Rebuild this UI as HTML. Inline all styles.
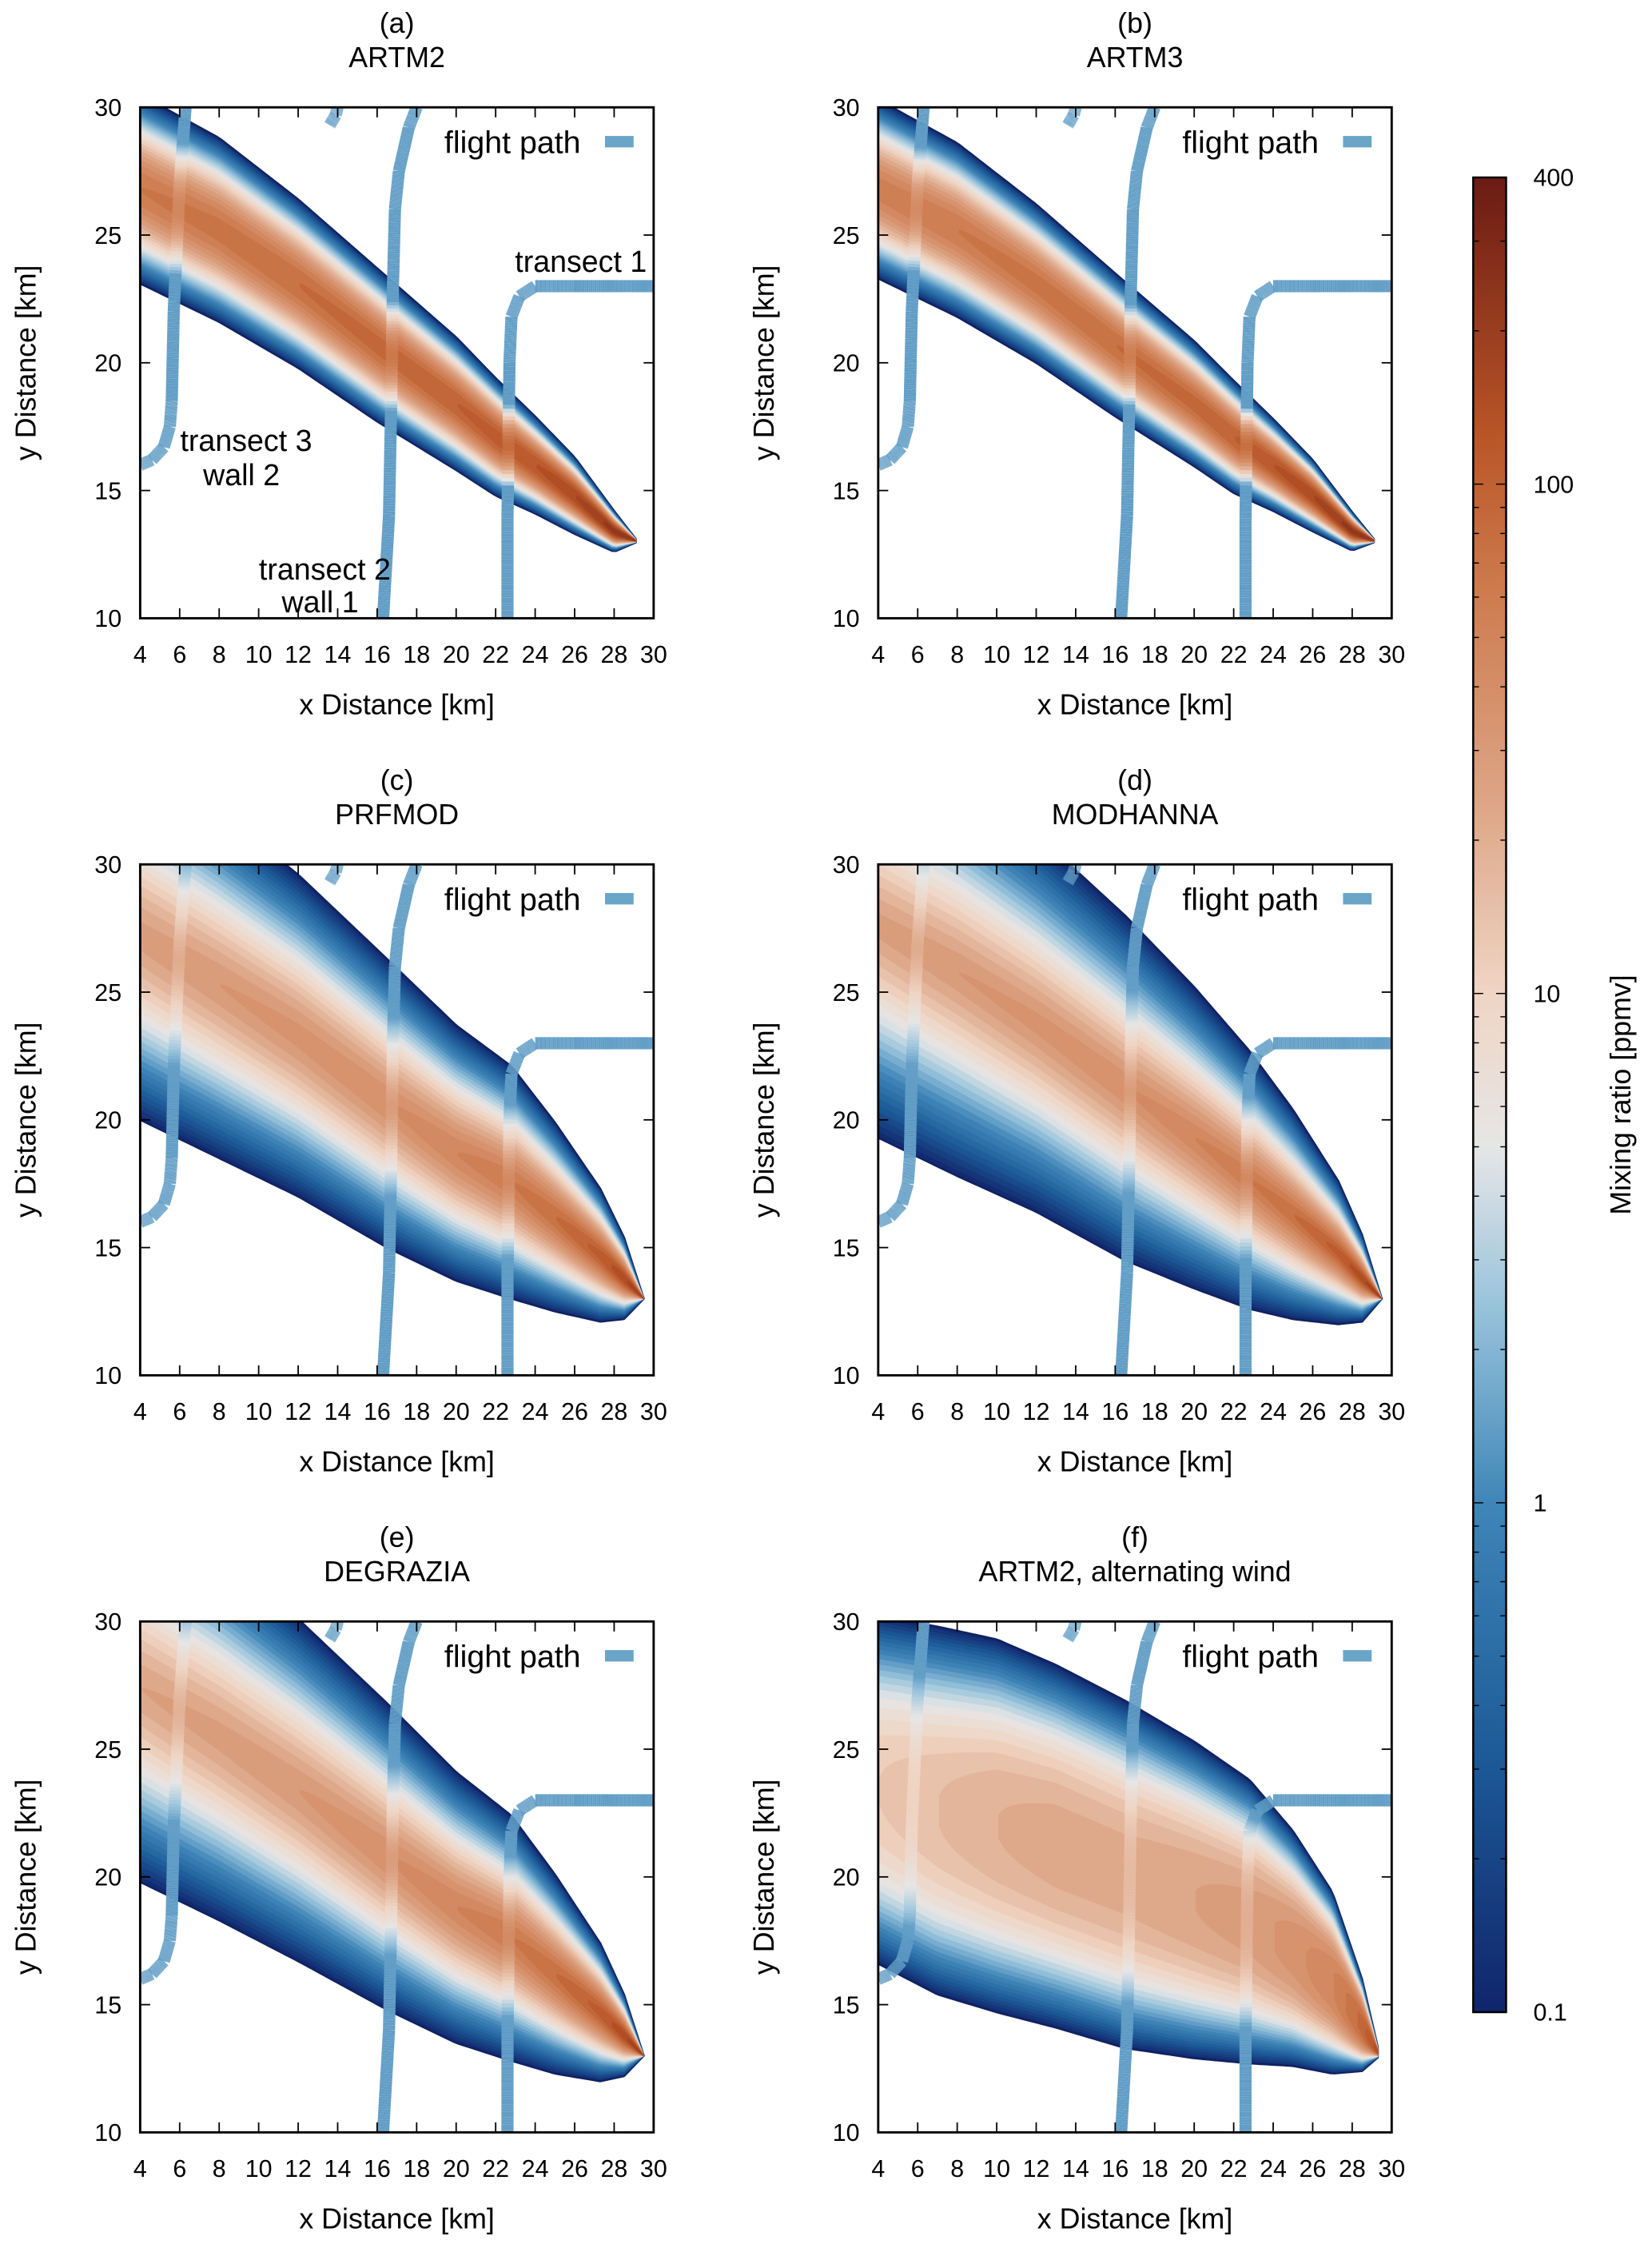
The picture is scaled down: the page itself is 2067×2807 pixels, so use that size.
<!DOCTYPE html>
<html><head><meta charset="utf-8"><style>
html,body{margin:0;padding:0;background:#fff;}
svg{display:block;font-family:"Liberation Sans",sans-serif;}
</style></head><body>
<svg id="fig" width="2067" height="2807" viewBox="0 0 1155 1568" preserveAspectRatio="none" xmlns="http://www.w3.org/2000/svg">
<defs id="defs"></defs>
<g id="root"></g>
</svg>
<script>
// ---- data (km, log10 ppmv) ----
const panelLetters = ["(a)","(b)","(c)","(d)","(e)","(f)"];
const panelNames = ["ARTM2","ARTM3","PRFMOD","MODHANNA","DEGRAZIA","ARTM2, alternating wind"];
const xTicks = [4,6,8,10,12,14,16,18,20,22,24,26,28,30];
const yTicks = [10,15,20,25,30];
const cbTickValues = [400,100,10,1,0.1];
const cbTickLabels = ["400","100","10","1","0.1"];
// plume centerline samples per panel
const plumeX_a = [4,8,12,16,20,22,24,26,28,29.2];
const plumeC_a = [26.8,25.2,23.1,20.7,18.4,17.1,16.0,14.8,13.4,13.0];
const plumeW_a = [3.7,3.6,3.3,3.0,2.6,2.3,1.9,1.5,0.8,0];
const plumeP_a = [1.8,1.85,1.9,1.95,2.0,2.05,2.1,2.2,2.35,2.4];
const plumeX_b = [4,8,12,16,20,22,24,26,28,29.2];
const plumeC_b = [26.8,25.2,23.1,20.7,18.4,17.1,16.0,14.8,13.4,13.0];
const plumeW_b = [3.5,3.4,3.1,2.8,2.45,2.2,1.8,1.4,0.75,0];
const plumeP_b = [1.75,1.8,1.85,1.9,1.95,2.0,2.1,2.2,2.35,2.4];
const plumeX_c = [4,8,12,16.5,20,22.8,25,27.3,28.5,29.5];
const plumeC_c = [27.2,25.3,23.3,20.65,18.7,17.55,16.2,14.7,13.8,13.0];
const plumeW_c = [7.2,6.8,6.3,5.65,5.0,4.55,3.7,2.6,1.6,0];
const plumeP_c = [1.45,1.5,1.55,1.6,1.7,1.8,1.9,2.05,2.2,2.3];
const plumeX_d = [4,8,12,16.5,20,22.8,25,27.3,28.5,29.5];
const plumeC_d = [27.6,25.8,23.8,21.25,19.3,17.65,16.3,14.8,13.8,13.0];
const plumeW_d = [8.3,8.0,7.4,6.75,5.9,5.05,4.1,2.8,1.7,0];
const plumeP_d = [1.45,1.5,1.55,1.6,1.7,1.8,1.9,2.05,2.2,2.3];
const plumeX_e = [4,8,12,16.5,20,22.8,25,27.3,28.5,29.5];
const plumeC_e = [27.4,25.5,23.4,20.8,18.8,17.6,16.2,14.7,13.8,13.0];
const plumeW_e = [7.6,7.2,6.7,6.0,5.3,4.8,3.9,2.7,1.6,0];
const plumeP_e = [1.4,1.45,1.5,1.6,1.7,1.8,1.9,2.05,2.2,2.3];
const plumeX_f = [4,7,10,13,16.5,20,22.8,25,27,28.5,29.4];
const plumeC_f = [23.4,22.6,22.0,21.2,20.1,19.1,18.25,17.2,15.85,14.2,13.0];
const plumeW_f = [6.8,7.2,7.3,7.1,6.8,6.2,5.55,4.6,3.55,1.8,0];
const plumeP_f = [1.1,1.2,1.3,1.35,1.35,1.4,1.45,1.55,1.7,1.95,2.2];
const plumeShape = [1.9,1.9,1.5,1.35,1.5,2.6];
// flight path waypoints
const pathT3x = [4,4.6,5.2,5.5,5.6,5.7,6.0,6.3];
const pathT3y = [16,16.2,16.7,17.5,18.5,22,27,30];
const pathT2x = [16.3,16.6,16.7,16.8,16.9,17.1,17.6,18];
const pathT2y = [10,14,18,23,26,27.5,29.2,30];
const pathT1x = [22.6,22.6,22.7,22.8,23.2,24,26,30];
const pathT1y = [10,14,20,21.8,22.6,23,23,23];
const pathArcX = [13.6,13.9,14.0];
const pathArcY = [29.3,29.7,30];

const plumes = [
 [plumeX_a,plumeC_a,plumeW_a,plumeP_a],[plumeX_b,plumeC_b,plumeW_b,plumeP_b],
 [plumeX_c,plumeC_c,plumeW_c,plumeP_c],[plumeX_d,plumeC_d,plumeW_d,plumeP_d],
 [plumeX_e,plumeC_e,plumeW_e,plumeP_e],[plumeX_f,plumeC_f,plumeW_f,plumeP_f]];
const paths = [[pathT3x,pathT3y],[pathT2x,pathT2y],[pathT1x,pathT1y],[pathArcX,pathArcY]];

// ---- layout ----
const NS="http://www.w3.org/2000/svg";
const colX=[98,614], rowY=[75,604,1133], W=359, H=357;
const root=document.getElementById('root'), defs=document.getElementById('defs');
function mk(tag,attrs,parent){const e=document.createElementNS(NS,tag);for(const k in attrs)e.setAttribute(k,attrs[k]);(parent||root).appendChild(e);return e;}
const stops=[[-1,[16,37,107]],[-0.5,[29,90,152]],[0,[63,134,184]],[0.4,[156,197,220]],[0.7,[230,230,230]],[1,[239,213,196]],[1.4,[220,162,130]],[1.8,[205,122,77]],[2.1,[184,85,39]],[2.6,[107,27,19]]];
function cmap(v){if(v<=stops[0][0])return 'rgb('+stops[0][1].join(',')+')';for(let i=1;i<stops.length;i++){if(v<=stops[i][0]){const a=stops[i-1],b=stops[i],t=(v-a[0])/(b[0]-a[0]);return 'rgb('+a[1].map((c,j)=>Math.round(c+(b[1][j]-c)*t)).join(',')+')';}}return 'rgb('+stops[stops.length-1][1].join(',')+')';}
function interp(xs,ys,x){if(x<=xs[0])return ys[0];for(let i=1;i<xs.length;i++){if(x<=xs[i]){const t=(x-xs[i-1])/(xs[i]-xs[i-1]);return ys[i-1]+(ys[i]-ys[i-1])*t;}}return ys[ys.length-1];}
function valueAt(panel,x,y){
 const P=plumes[panel];
 const xsA=P[0],csA=P[1],wsA=P[2],psA=P[3];
 if(x>xsA[xsA.length-1])return -2;
 const c=interp(xsA,csA,x),w=interp(xsA,wsA,x),p=interp(xsA,psA,x);
 if(!(w>0))return -2;
 const f=Math.abs(y-c)/w;
 if(f>1)return -2;
 return p-(p+1)*Math.pow(f,plumeShape[panel]);
}

for(let pi=0;pi<6;pi++){
 const bx=colX[pi%2], by=rowY[Math.floor(pi/2)];
 const sx=x=>bx+(x-4)/26*W, sy=y=>by+H-(y-10)/20*H;
 const g=mk('g',{});
 
 
 const cp=mk('clipPath',{id:'clip'+pi},defs);mk('rect',{x:bx,y:by,width:W,height:H},cp);
 const hm=mk('g',{'clip-path':'url(#clip'+pi+')'},g);
 
 
 const [xs,cs,ws,ps]=plumes[pi];
 const xmin=3.5,xmax=xs[xs.length-1];
 for(let L=-1;L<=2.6;L+=0.1){
  const up=[],lo=[];
  for(let x=xmin;x<=xmax+1e-6;x+=0.2){
   const c=interp(xs,cs,x),w=interp(xs,ws,x),p=interp(xs,ps,x);
   if(L>p)continue;
   const f=Math.pow((p-L)/(p+1),1/plumeShape[pi]);
   up.push(sx(x).toFixed(2)+','+sy(c+f*w).toFixed(2));
   lo.unshift(sx(x).toFixed(2)+','+sy(c-f*w).toFixed(2));
  }
  if(up.length<2)continue;
  const col=cmap(L+0.05);
  const poly=mk('polygon',{points:up.concat(lo).join(' '),fill:col,stroke:L<-0.95?'#0f2260':col,'stroke-width':L<-0.95?1.4:0.6,'stroke-linejoin':'round'},hm);
  
  
 }
 // flight paths
 const fp=mk('g',{'clip-path':'url(#clip'+pi+')'},g);
 
 
 for(const pth of paths){
  const px=pth[0],py=pth[1];
  for(let i=1;i<px.length;i++){
   const n=40;
   for(let k=0;k<n;k++){
    const ax=px[i-1]+(px[i]-px[i-1])*k/n, ay=py[i-1]+(py[i]-py[i-1])*k/n;
    const bx2=px[i-1]+(px[i]-px[i-1])*(k+1)/n, by2=py[i-1]+(py[i]-py[i-1])*(k+1)/n;
    const raw=valueAt(pi,(ax+bx2)/2,(ay+by2)/2);
    const vv=Math.max(raw-0.15,0.15);
    const s=mk('line',{x1:sx(ax).toFixed(2),y1:sy(ay).toFixed(2),x2:sx(bx2).toFixed(2),y2:sy(by2).toFixed(2),'stroke-width':8.5,'stroke-linecap':'butt'},fp);
    s.style.stroke=cmap(vv);
    
    
   }
  }
 }
 // frame
 const fr=mk('rect',{x:bx,y:by,width:W,height:H,fill:'none',stroke:'#000','stroke-width':1.6},g);
 
 
 xTicks.forEach(t=>{
  const X=sx(t);
  mk('line',{x1:X,y1:by+H,x2:X,y2:by+H-7,stroke:'#000','stroke-width':1},g);
  mk('line',{x1:X,y1:by,x2:X,y2:by+7,stroke:'#000','stroke-width':1},g);
  const tx=mk('text',{x:X,y:by+H+31,'font-size':17,'text-anchor':'middle'},g);tx.textContent=t;
  
  
 });
 yTicks.forEach(t=>{
  const Y=sy(t);
  mk('line',{x1:bx,y1:Y,x2:bx+7,y2:Y,stroke:'#000','stroke-width':1},g);
  mk('line',{x1:bx+W,y1:Y,x2:bx+W-7,y2:Y,stroke:'#000','stroke-width':1},g);
  const tx=mk('text',{x:bx-13,y:Y+6,'font-size':17,'text-anchor':'end'},g);tx.textContent=t;
  
  
 });
 const xt=mk('text',{x:bx+W/2,y:by+H+67,'font-size':20,'text-anchor':'middle'},g);xt.textContent='x Distance [km]';
 
 
 const yt=mk('text',{x:0,y:0,'font-size':20,'text-anchor':'middle',transform:'translate('+(bx-73)+','+(by+H/2)+') rotate(-90)'},g);yt.textContent='y Distance [km]';
 
 
 const t1=mk('text',{x:bx+W/2,y:by-52,'font-size':20,'text-anchor':'middle'},g);t1.textContent=panelLetters[pi];
 
 
 const t2=mk('text',{x:bx+W/2,y:by-28,'font-size':20,'text-anchor':'middle'},g);t2.textContent=panelNames[pi];
 
 
 const lg=mk('text',{x:bx+308,y:by+32,'font-size':22,'text-anchor':'end'},g);lg.textContent='flight path';
 
 
 const ls=mk('rect',{x:bx+325,y:by+20,width:20,height:8,fill:'#6aa5c8'},g);
 
 
 if(pi===0){
  const labels=[['transect 1',bx+262,by+115],['transect 3',bx+28,by+240],['wall 2',bx+44,by+264],['transect 2',bx+83,by+330],['wall 1',bx+99,by+353]];
  labels.forEach(([s,x,y])=>{const t=mk('text',{x:x,y:y,'font-size':21},g);t.textContent=s;
   
   });
 }
}
// colorbar
const cbX=1030,cbW=23,cbTop=124,cbBot=1406,vmin=-1,vmax=Math.log10(400);
const cy=v=>cbBot-(Math.log10(v)-vmin)/(vmax-vmin)*(cbBot-cbTop);
const grad=mk('linearGradient',{id:'cbg',x1:0,y1:1,x2:0,y2:0},defs);
for(let i=0;i<=36;i++){const v=vmin+(vmax-vmin)*i/36;mk('stop',{offset:(i/36),'stop-color':cmap(v)},grad);}
const cb=mk('g',{});


mk('rect',{x:cbX,y:cbTop,width:cbW,height:cbBot-cbTop,fill:'url(#cbg)',stroke:'#000','stroke-width':1.4},cb);
for(let k=-1;k<=2;k++)for(let m=1;m<=9;m++){const v=m*Math.pow(10,k);if(v>400)continue;const Y=cy(v),len=m===1?7:4;
 mk('line',{x1:cbX,y1:Y,x2:cbX+len,y2:Y,stroke:'#000','stroke-width':0.8},cb);
 mk('line',{x1:cbX+cbW,y1:Y,x2:cbX+cbW-len,y2:Y,stroke:'#000','stroke-width':0.8},cb);}
cbTickValues.forEach((v,i)=>{const t=mk('text',{x:1072,y:cy(v)+6,'font-size':17},cb);t.textContent=cbTickLabels[i];
 
 });
const cbt=mk('text',{x:0,y:0,'font-size':20,'text-anchor':'middle',transform:'translate(1140,765) rotate(-90)'},cb);cbt.textContent='Mixing ratio [ppmv]';


</script>
</body></html>
